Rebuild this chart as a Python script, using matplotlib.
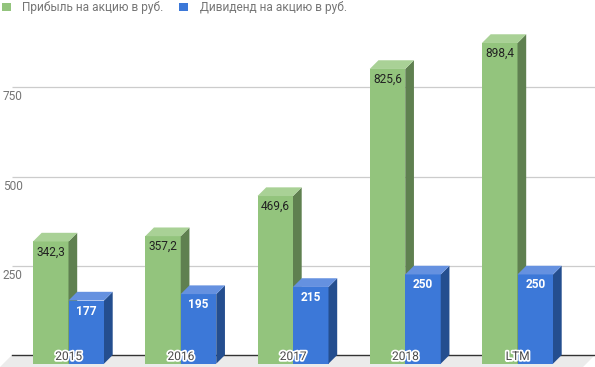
import matplotlib
matplotlib.use('Agg')
import matplotlib.pyplot as plt
from matplotlib.patches import Polygon, Rectangle, Patch
import matplotlib.patheffects as pe

categories = ['2015', '2016', '2017', '2018', 'LTM']
profit = [342.3, 357.2, 469.6, 825.6, 898.4]
dividend = [177, 195, 215, 250, 250]
profit_labels = ['342,3', '357,2', '469,6', '825,6', '898,4']
dividend_labels = ['177', '195', '215', '250', '250']
yticks = [250, 500, 750]
series_names = ['Прибыль на акцию в руб.', 'Дивиденд на акцию в руб.']

plt.rcParams['font.family'] = ['Roboto', 'DejaVu Sans']

W, H = 595, 367
DPI = 100
fig = plt.figure(figsize=(W / DPI, H / DPI), dpi=DPI)

# layout (pixels)
ax_left_px, ax_right_px = 12, 595
ax_bottom_px, ax_top_px = 355, 25
pxu_y = 0.357
pxu_x = 112.25
first_center_px = 77.2
ymax = (ax_bottom_px - ax_top_px) / pxu_y
x0 = -(first_center_px - ax_left_px) / pxu_x
x1 = (ax_right_px - first_center_px) / pxu_x
ax = fig.add_axes([ax_left_px / W, (H - ax_bottom_px) / H,
                   (ax_right_px - ax_left_px) / W, (ax_bottom_px - ax_top_px) / H])
ax.set_xlim(x0, x1)
ax.set_ylim(0, ymax)
ax.axis('off')

depth = 8.7
ddx = depth / pxu_x
ddy = depth / pxu_y
bw = 35.5 / pxu_x
fs = 8.6

# floor
f = 1.4
ax.add_patch(Polygon([(x0, 0), (x1, 0), (x1 - ddx * f, -ddy * f), (x0 - ddx * f, -ddy * f)],
                     closed=True, facecolor='#ebebeb', edgecolor='none', clip_on=False, zorder=0))
# gridlines
ax.hlines(yticks, x0, x1, color='#cccccc', lw=0.9, zorder=1)
ax.plot([x0, x1], [0, 0], color='#333333', lw=1.0, zorder=1, clip_on=False)
for t in yticks:
    ax.text(x0 + (3 - ax_left_px) / pxu_x, t - 3.0 / pxu_y, str(t), ha='left', va='top',
            fontsize=fs, color='#757575')

series = [
    (profit, profit_labels, -bw, ('#93c47d', '#5f8050', '#a9d196'), '#222222', 'normal'),
    (dividend, dividend_labels, 0.0, ('#3c78d8', '#244e8f', '#6591e0'), '#ffffff', 'bold'),
]

for i in range(len(categories)):
    for vals, labs, off, (cf, cs, ct), tc, tw in series:
        v = vals[i]
        bx = i + off
        fx = bx - ddx
        ax.add_patch(Rectangle((fx, -ddy), bw, v, facecolor=cf, edgecolor='none',
                               clip_on=False, zorder=2))
        ax.add_patch(Polygon([(fx + bw, -ddy), (bx + bw, 0), (bx + bw, v), (fx + bw, v - ddy)],
                             closed=True, facecolor=cs, edgecolor='none', clip_on=False, zorder=2))
        ax.add_patch(Polygon([(fx, v - ddy), (bx, v), (bx + bw, v), (fx + bw, v - ddy)],
                             closed=True, facecolor=ct, edgecolor='none', clip_on=False, zorder=2))
        ax.text(fx + bw / 2, v - ddy - 10.5 / pxu_y, labs[i], ha='center', va='center',
                fontsize=fs, color=tc, fontweight=tw, zorder=3)
    ax.text(i - ddx, -1.5 / pxu_y, categories[i], ha='center', va='center', fontsize=fs,
            color='#4a4a4a', fontweight='normal', zorder=4, clip_on=False,
            path_effects=[pe.withStroke(linewidth=2.5, foreground='white')])

handles = [Patch(facecolor='#93c47d', edgecolor='none'), Patch(facecolor='#3c78d8', edgecolor='none')]
fig.legend(handles, series_names, loc='upper left', bbox_to_anchor=(1 / W, 1 - 0 / H), ncol=2,
           frameon=False, fontsize=fs, labelcolor='#757575', handlelength=0.7, handleheight=0.7,
           handletextpad=1.0, columnspacing=1.3, borderpad=0.1, borderaxespad=0)

fig.savefig('out.png', dpi=DPI)
